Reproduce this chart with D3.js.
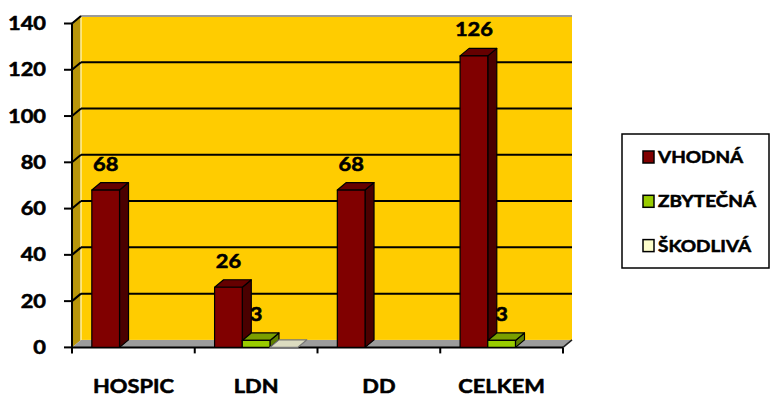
<!DOCTYPE html>
<html>
<head>
<meta charset="utf-8">
<script src="https://cdn.jsdelivr.net/npm/d3@7"></script>
<style>
  body { margin: 0; background: #fff; }
  text { font-family: Lato, "Open Sans", sans-serif; font-weight: 700; fill: #000;
         stroke: #000; stroke-width: 0.55px; stroke-linejoin: round; }
</style>
</head>
<body>
<svg id="chart" width="771" height="396"></svg>
<script>
// Categories and series values
const categories = ["HOSPIC", "LDN", "DD", "CELKEM"];
const seriesNames = ["VHODNÁ", "ZBYTEČNÁ", "ŠKODLIVÁ"];
const vhodna   = [68, 26, 68, 126];
const zbytecna = [null, 3, null, 3];
const skodliva = [null, 0, null, null];
const yTicks = [0, 20, 40, 60, 80, 100, 120, 140];

const seriesValues = [vhodna, zbytecna, skodliva];
const palette = [
  { front: "#800000", side: "#4a0000", top: "#650000", stroke: "#000" },
  { front: "#99cc00", side: "#5f7f00", top: "#7a9f00", stroke: "#000" },
  { front: "#ffffcc", side: "#b8b89a", top: "#dcdcc0", stroke: "#777" }
];

const svg = d3.select("#chart");

// 3D depth offset
const DX = 9, DY = -7.5;
const STRETCH = 1.15;

const x = d3.scaleBand().domain(categories).range([72, 563]).padding(0);
const xs = d3.scaleBand().domain(seriesNames).range([0, x.bandwidth()])
  .paddingInner(0).paddingOuter(0.716);
const y = d3.scaleLinear().domain([0, 140]).range([347.4, 23.5]);

const y0 = y(0), yTop = y(140);
const xL = x.range()[0], xR = x.range()[1];

function label(g, txt, px, py, anchor, size) {
  return g.append("text")
    .attr("transform", `translate(${px},${py}) scale(${STRETCH},1)`)
    .attr("text-anchor", anchor)
    .attr("font-size", size)
    .text(txt);
}

// Back wall
svg.append("rect")
  .attr("x", xL + DX).attr("y", yTop + DY)
  .attr("width", xR - xL).attr("height", y0 - yTop)
  .attr("fill", "#ffcc00");

// Side wall
svg.append("polygon")
  .attr("points", [[xL, yTop], [xL + DX, yTop + DY], [xL + DX, y0 + DY], [xL, y0]].join(" "))
  .attr("fill", "#b8950a");
svg.append("line")
  .attr("x1", xL + DX).attr("x2", xL + DX)
  .attr("y1", yTop + DY).attr("y2", y0 + DY)
  .attr("stroke", "#fff0a0").attr("stroke-width", 1.5);

// Floor
svg.append("polygon")
  .attr("points", [[xL, y0], [xR, y0], [xR + DX, y0 + DY], [xL + DX, y0 + DY]].join(" "))
  .attr("fill", "#9c9c9c");
svg.append("line")
  .attr("x1", xR).attr("y1", y0).attr("x2", xR + DX).attr("y2", y0 + DY)
  .attr("stroke", "#222").attr("stroke-width", 1.5);

// Top edge of the wall
svg.append("line")
  .attr("x1", xL + DX).attr("x2", xR + DX)
  .attr("y1", yTop + DY).attr("y2", yTop + DY)
  .attr("stroke", "#9a9a9a").attr("stroke-width", 2);
svg.append("line")
  .attr("x1", xL).attr("y1", yTop).attr("x2", xL + DX).attr("y2", yTop + DY)
  .attr("stroke", "#9a9a9a").attr("stroke-width", 1.5);

// Gridlines on back wall and side wall
const grid = svg.append("g");
yTicks.filter(t => t > 0 && t < 140).forEach(t => {
  grid.append("line")
    .attr("x1", xL + DX).attr("x2", xR + DX)
    .attr("y1", y(t) + DY).attr("y2", y(t) + DY)
    .attr("stroke", "#000").attr("stroke-width", 2);
});
yTicks.filter(t => t > 0).forEach(t => {
  grid.append("line")
    .attr("x1", xL).attr("y1", y(t)).attr("x2", xL + DX).attr("y2", y(t) + DY)
    .attr("stroke", "#000").attr("stroke-width", 2);
});

// Y axis
const yAxis = svg.append("g");
yAxis.append("line")
  .attr("x1", xL).attr("x2", xL).attr("y1", yTop).attr("y2", y0 + 5)
  .attr("stroke", "#000").attr("stroke-width", 2);
yTicks.forEach(t => {
  yAxis.append("line")
    .attr("x1", xL - 8).attr("x2", xL).attr("y1", y(t)).attr("y2", y(t))
    .attr("stroke", "#000").attr("stroke-width", 2);
  label(yAxis, t, 46, y(t) + 6.5, "end", 19);
});

// X axis
const xAxis = svg.append("g");
xAxis.append("line")
  .attr("x1", xL).attr("x2", xR).attr("y1", y0).attr("y2", y0)
  .attr("stroke", "#000").attr("stroke-width", 2);
const boundaries = categories.map(c => x(c)).concat([xR]);
boundaries.forEach(b => {
  xAxis.append("line")
    .attr("x1", b).attr("x2", b).attr("y1", y0).attr("y2", y0 + 6)
    .attr("stroke", "#000").attr("stroke-width", 2);
});
categories.forEach(c => {
  label(xAxis, c, x(c) + x.bandwidth() / 2, 393, "middle", 19);
});

// Value labels (drawn behind the columns)
const labels = svg.append("g");
categories.forEach((c, i) => {
  seriesNames.forEach((s, j) => {
    const v = seriesValues[j][i];
    if (v === null || v === 0) return;
    const cx = x(c) + xs(s) + xs.bandwidth() / 2;
    label(labels, v, cx, y(v) + DY - 12, "middle", 19);
  });
});

// 3D columns
const bars = svg.append("g");
categories.forEach((c, i) => {
  seriesNames.forEach((s, j) => {
    const v = seriesValues[j][i];
    if (v === null) return;
    const col = palette[j];
    const x0 = x(c) + xs(s), x1 = x0 + xs.bandwidth();
    const yt = y(v);
    const g = bars.append("g").attr("stroke", col.stroke).attr("stroke-width", 1.2)
      .attr("stroke-linejoin", "round");
    // side face
    g.append("polygon")
      .attr("points", [[x1, y0], [x1 + DX, y0 + DY], [x1 + DX, yt + DY], [x1, yt]].join(" "))
      .attr("fill", col.side);
    // top face
    g.append("polygon")
      .attr("points", [[x0, yt], [x0 + DX, yt + DY], [x1 + DX, yt + DY], [x1, yt]].join(" "))
      .attr("fill", col.top);
    // front face
    if (v > 0) {
      g.append("rect")
        .attr("x", x0).attr("y", yt).attr("width", x1 - x0).attr("height", y0 - yt)
        .attr("fill", col.front);
    }
  });
});

// Legend
const legend = svg.append("g");
legend.append("rect")
  .attr("x", 622).attr("y", 134).attr("width", 147).attr("height", 134)
  .attr("fill", "#fff").attr("stroke", "#000").attr("stroke-width", 1.5);
seriesNames.forEach((s, j) => {
  const ly = 157 + j * 44.3;
  legend.append("rect")
    .attr("x", 643).attr("y", ly - 6).attr("width", 11).attr("height", 12)
    .attr("fill", palette[j].front).attr("stroke", "#000").attr("stroke-width", 1.5);
  label(legend, s, 658, ly + 6, "start", 16.5);
});
</script>
</body>
</html>
